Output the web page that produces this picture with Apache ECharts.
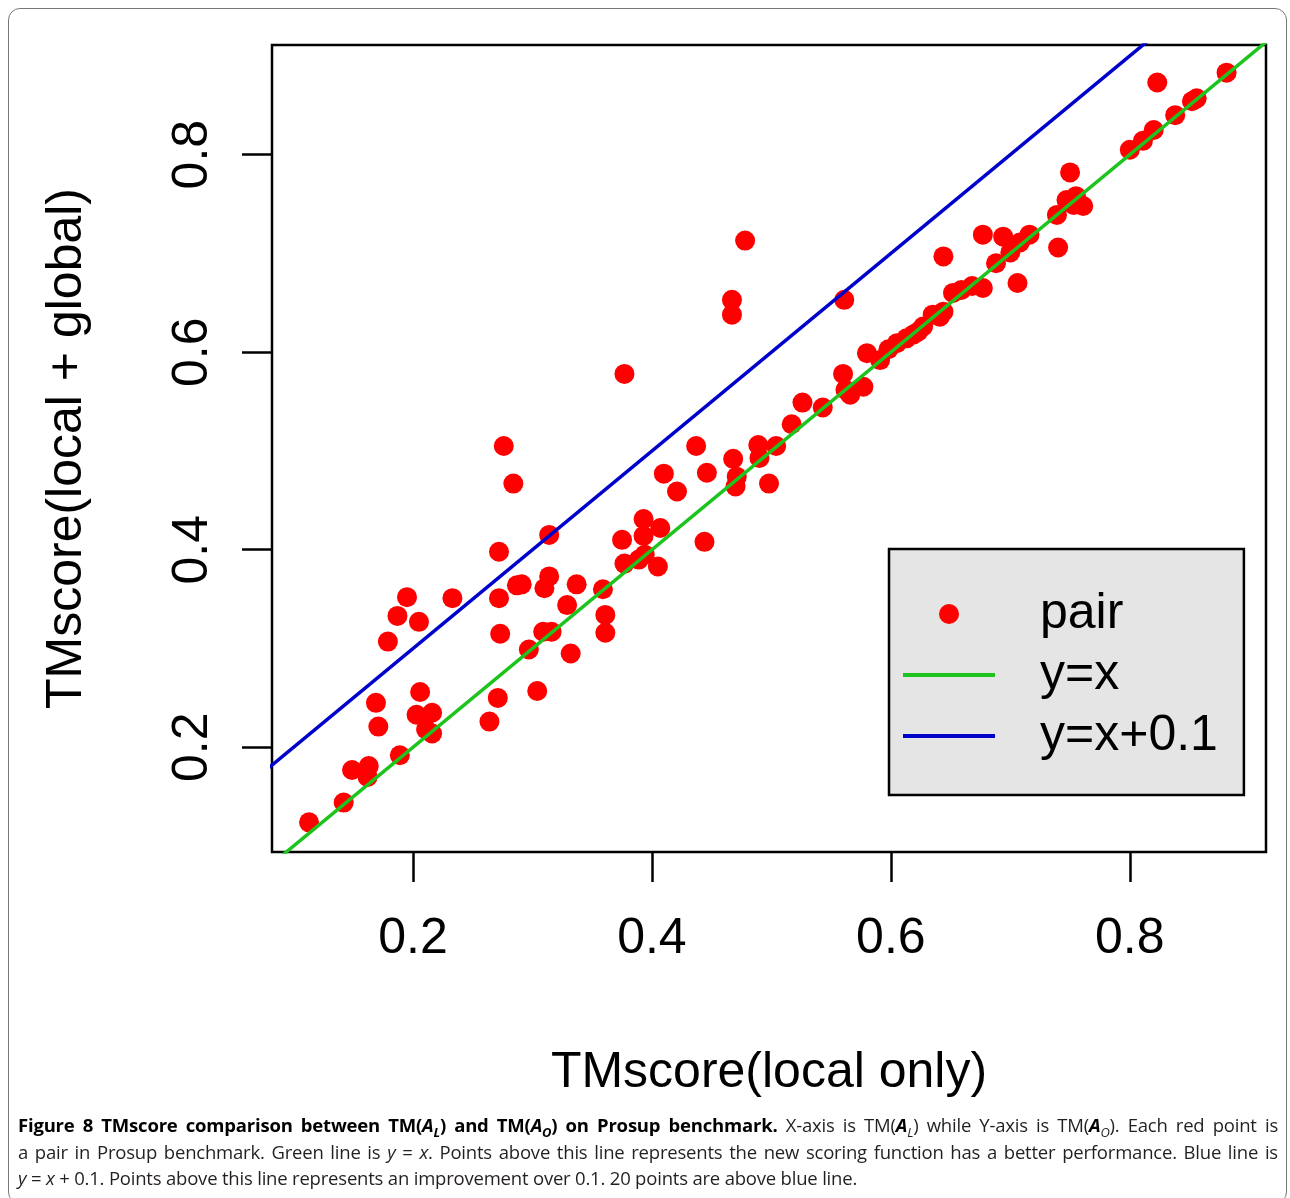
<!DOCTYPE html>
<html>
<head>
<meta charset="utf-8">
<script src="https://cdn.jsdelivr.net/npm/echarts@6/dist/echarts.min.js"></script>
<style>
  html, body { margin: 0; padding: 0; background: #fff; }
  #frame { position: absolute; left: 8px; top: 8px; width: 1279px; height: 1196px; border: 1px solid #777; border-radius: 12px; box-sizing: border-box; }
  #chart { position: absolute; left: 0; top: 0; width: 1290px; height: 1198px; }
  #caption { position: absolute; left: 18px; top: 1112px; width: 1260px; font-family: "Open Sans", sans-serif; font-size: 18.5px; color: #231f20; letter-spacing: -0.2px; }
  #caption .ln { height: 26.5px; line-height: 26.5px; white-space: nowrap; }
  #caption .j { text-align: justify; text-align-last: justify; }
  #caption b { color: #000; }
  #caption sub { font-size: 70%; }
</style>
</head>
<body>
<div id="frame"></div>
<div id="chart"></div>
<div id="caption">
  <div class="ln j"><b>Figure 8 TMscore comparison between TM(<i>A<sub>L</sub></i>) and TM(<i>A<sub>O</sub></i>) on Prosup benchmark.</b> X-axis is TM(<b><i>A</i></b><sub><i>L</i></sub>) while Y-axis is TM(<b><i>A</i></b><sub><i>O</i></sub>). Each red point is</div>
  <div class="ln j">a pair in Prosup benchmark. Green line is <i>y</i> = <i>x</i>. Points above this line represents the new scoring function has a better performance. Blue line is</div>
  <div class="ln"><i>y</i> = <i>x</i> + 0.1. Points above this line represents an improvement over 0.1. 20 points are above blue line.</div>
</div>
<script>
// TM(A_L): local only
const pairX = [
  0.113, 0.142, 0.149, 0.163, 0.162, 0.189, 0.169, 0.171, 0.206, 0.203,
  0.216, 0.211, 0.216, 0.179, 0.187, 0.195, 0.205, 0.233, 0.272, 0.272,
  0.273, 0.287, 0.291, 0.314, 0.310, 0.329, 0.337, 0.309, 0.316, 0.297,
  0.332, 0.304, 0.271, 0.264, 0.276, 0.284, 0.314, 0.377, 0.359, 0.361,
  0.361, 0.375, 0.393, 0.407, 0.393, 0.377, 0.389, 0.394, 0.405, 0.410,
  0.421, 0.437, 0.446, 0.444, 0.478, 0.467, 0.467, 0.561, 0.580, 0.560,
  0.577, 0.566, 0.562, 0.526, 0.543, 0.517, 0.489, 0.504, 0.468, 0.490,
  0.471, 0.470, 0.498, 0.644, 0.677, 0.694, 0.716, 0.708, 0.688, 0.700,
  0.740, 0.706, 0.677, 0.668, 0.659, 0.652, 0.644, 0.641, 0.635, 0.627,
  0.623, 0.619, 0.613, 0.605, 0.598, 0.591, 0.739, 0.753, 0.761, 0.750,
  0.755, 0.747, 0.823, 0.881, 0.856, 0.852, 0.838, 0.820, 0.811, 0.800
];
// TM(A_O): local + global
const pairY = [
  0.124, 0.144, 0.177, 0.181, 0.170, 0.192, 0.245, 0.221, 0.256, 0.233,
  0.235, 0.218, 0.214, 0.307, 0.333, 0.352, 0.327, 0.351, 0.398, 0.351,
  0.315, 0.364, 0.365, 0.373, 0.361, 0.344, 0.365, 0.317, 0.317, 0.299,
  0.295, 0.257, 0.250, 0.226, 0.505, 0.467, 0.415, 0.578, 0.360, 0.334,
  0.316, 0.410, 0.431, 0.422, 0.414, 0.386, 0.390, 0.395, 0.383, 0.477,
  0.459, 0.505, 0.478, 0.408, 0.713, 0.653, 0.638, 0.653, 0.599, 0.578,
  0.565, 0.557, 0.562, 0.549, 0.544, 0.527, 0.506, 0.505, 0.492, 0.493,
  0.474, 0.464, 0.467, 0.697, 0.719, 0.717, 0.719, 0.711, 0.690, 0.701,
  0.706, 0.670, 0.665, 0.667, 0.663, 0.660, 0.641, 0.636, 0.638, 0.626,
  0.621, 0.618, 0.614, 0.609, 0.603, 0.592, 0.739, 0.749, 0.748, 0.782,
  0.758, 0.754, 0.873, 0.883, 0.857, 0.854, 0.840, 0.825, 0.814, 0.805
];
const identityLine = [[0, 0], [1, 1]];        // y = x
const shiftedLine = [[0, 0.1], [1, 1.1]];     // y = x + 0.1
const tickValues = [0.2, 0.4, 0.6, 0.8];
const xRange = [0.082, 0.914];
const yRange = [0.094, 0.911];

const pairData = pairX.map((x, i) => [x, pairY[i]]);

const FONT = 'Liberation Sans, Arial, Helvetica, sans-serif';
const LINE_ICON = 'path://M0,0 L92,0 L92,4 L0,4 Z';
const chart = echarts.init(document.getElementById('chart'), null, { renderer: 'canvas' });

const axisCommon = {
  type: 'value',
  nameLocation: 'middle',
  nameTextStyle: { fontFamily: FONT, fontSize: 50, color: '#000' },
  axisLine: { show: false },
  splitLine: { show: false },
  axisTick: { show: true, length: 30, lineStyle: { color: '#000', width: 2.5 }, customValues: tickValues },
  axisLabel: { fontFamily: FONT, fontSize: 50, color: '#000', customValues: tickValues, formatter: v => v.toFixed(1) }
};

chart.setOption({
  animation: false,
  backgroundColor: 'transparent',
  grid: {
    left: 272, top: 45, width: 994, height: 807,
    show: true, borderColor: '#000', borderWidth: 2.5, backgroundColor: 'transparent',
    containLabel: false, outerBoundsMode: 'none'
  },
  xAxis: Object.assign({}, axisCommon, {
    min: xRange[0], max: xRange[1],
    name: 'TMscore(local only)', nameGap: 196,
    axisLabel: Object.assign({}, axisCommon.axisLabel, { margin: 62 })
  }),
  yAxis: Object.assign({}, axisCommon, {
    min: yRange[0], max: yRange[1],
    name: 'TMscore(local + global)', nameGap: 180,
    axisLabel: Object.assign({}, axisCommon.axisLabel, { margin: 54, rotate: 90 })
  }),
  legend: {
    orient: 'vertical',
    left: 889, top: 549,
    padding: [40, 26, 34, 14],
    itemGap: 11,
    itemWidth: 92, itemHeight: 20,
    backgroundColor: '#e5e5e5',
    borderColor: '#000', borderWidth: 2.5,
    selectedMode: false,
    textStyle: { fontFamily: FONT, fontSize: 50, color: '#000', padding: [0, 0, 0, 40] },
    data: [
      { name: 'pair', icon: 'circle' },
      { name: 'y=x', icon: LINE_ICON },
      { name: 'y=x+0.1', icon: LINE_ICON }
    ]
  },
  series: [
    {
      name: 'pair', type: 'scatter', data: pairData,
      symbol: 'circle', symbolSize: 20,
      itemStyle: { color: '#ff0000', opacity: 1 },
      z: 2
    },
    {
      name: 'y=x', type: 'line', data: identityLine,
      symbol: 'none', showSymbol: false, clip: true,
      lineStyle: { color: '#1ec41e', width: 3.5 },
      itemStyle: { color: '#1ec41e' },
      z: 3
    },
    {
      name: 'y=x+0.1', type: 'line', data: shiftedLine,
      symbol: 'none', showSymbol: false, clip: true,
      lineStyle: { color: '#0000cc', width: 3.5 },
      itemStyle: { color: '#0000cc' },
      z: 3
    }
  ]
});
</script>
</body>
</html>
